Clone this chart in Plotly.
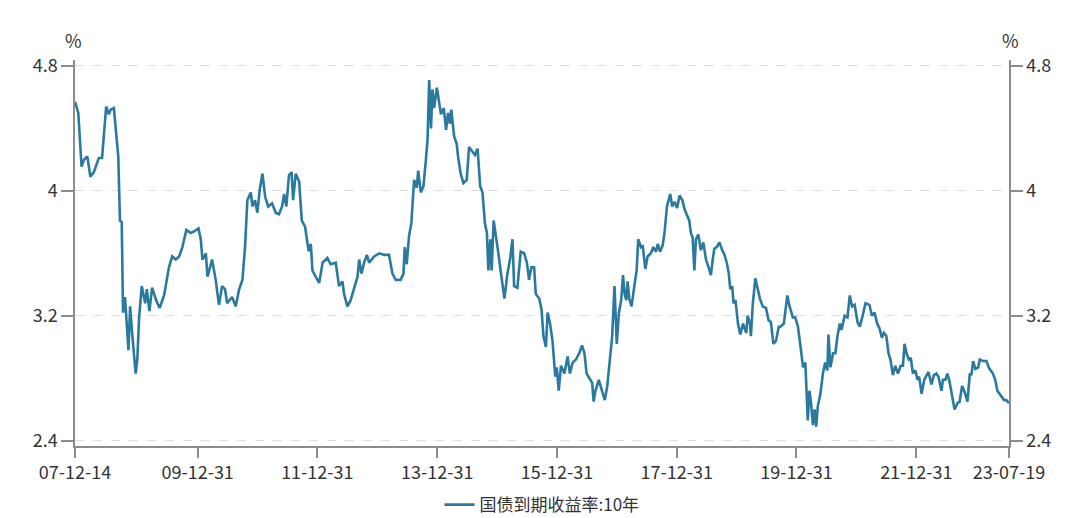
import plotly.graph_objects as go

dates = [
"2007-12-14","2007-12-25","2008-01-03","2008-01-23","2008-02-07","2008-02-27","2008-03-17","2008-04-07","2008-05-07","2008-05-27",
"2008-06-07","2008-06-21","2008-07-07","2008-07-18","2008-08-07","2008-08-18","2008-09-03","2008-09-13","2008-09-24","2008-10-02",
"2008-10-14","2008-11-04","2008-11-14","2008-11-28","2008-12-18","2008-12-28","2009-01-08","2009-01-24","2009-02-14","2009-02-24",
"2009-03-12","2009-03-28","2009-04-22","2009-05-13","2009-06-09","2009-07-09","2009-07-29","2009-08-19","2009-09-09","2009-09-29",
"2009-10-23","2009-11-19","2009-12-09","2010-01-05","2010-01-19","2010-01-29","2010-02-19","2010-03-01","2010-03-14","2010-03-29",
"2010-04-20","2010-05-10","2010-05-29","2010-06-16","2010-06-29","2010-07-29","2010-08-20","2010-09-10","2010-09-30","2010-10-16",
"2010-10-30","2010-11-20","2010-11-30","2010-12-16","2010-12-30","2011-01-14","2011-01-30","2011-02-16","2011-03-06","2011-03-30",
"2011-04-21","2011-05-11","2011-05-30","2011-06-11","2011-06-25","2011-07-11","2011-07-27","2011-08-05","2011-08-21","2011-09-11",
"2011-09-27","2011-10-17","2011-11-07","2011-11-11","2011-11-21","2011-12-01","2011-12-21","2012-01-11","2012-02-01","2012-03-01",
"2012-03-21","2012-04-21","2012-05-11","2012-06-01","2012-06-11","2012-07-01","2012-07-21","2012-08-11","2012-09-01","2012-09-11",
"2012-09-25","2012-10-11","2012-10-28","2012-11-11","2012-12-11","2013-01-12","2013-02-12","2013-03-12","2013-04-02","2013-04-22",
"2013-05-22","2013-06-08","2013-06-16","2013-06-28","2013-07-12","2013-07-26","2013-08-12","2013-08-28","2013-09-06","2013-09-22",
"2013-10-08","2013-10-23","2013-11-02","2013-11-12","2013-11-23","2013-12-02","2013-12-12","2013-12-29","2014-01-13","2014-01-23",
"2014-02-09","2014-02-23","2014-03-07","2014-03-19","2014-03-27","2014-04-13","2014-04-29","2014-05-07","2014-05-23","2014-06-09",
"2014-06-29","2014-07-13","2014-08-03","2014-08-18","2014-09-03","2014-09-19","2014-10-03","2014-10-18","2014-10-30","2014-11-08",
"2014-11-20","2014-11-28","2014-12-10","2014-12-24","2015-01-08","2015-01-24","2015-02-14","2015-03-04","2015-03-20","2015-04-04",
"2015-04-14","2015-05-04","2015-05-24","2015-06-14","2015-07-01","2015-07-14","2015-07-28","2015-08-14","2015-08-24","2015-09-14",
"2015-09-28","2015-10-10","2015-10-25","2015-11-04","2015-11-19","2015-12-04","2015-12-21","2015-12-30","2016-01-11","2016-01-25",
"2016-02-15","2016-03-05","2016-03-19","2016-04-05","2016-04-25","2016-05-15","2016-06-01","2016-06-16","2016-06-29","2016-07-16",
"2016-08-02","2016-08-11","2016-08-22","2016-09-11","2016-10-02","2016-10-18","2016-11-02","2016-11-16","2016-12-02","2016-12-16",
"2016-12-30","2017-01-12","2017-01-26","2017-02-06","2017-02-16","2017-02-26","2017-03-06","2017-03-16","2017-03-30","2017-04-16",
"2017-04-30","2017-05-10","2017-05-26","2017-06-06","2017-06-22","2017-07-06","2017-07-26","2017-08-10","2017-08-26","2017-09-06",
"2017-09-20","2017-10-06","2017-10-18","2017-11-01","2017-11-12","2017-11-21","2017-12-03","2017-12-17","2018-01-02","2018-01-17",
"2018-02-03","2018-02-17","2018-03-01","2018-03-17","2018-03-27","2018-04-07","2018-04-17","2018-04-27","2018-05-11","2018-05-27",
"2018-06-11","2018-06-27","2018-07-13","2018-07-27","2018-08-07","2018-08-17","2018-09-01","2018-09-17","2018-10-04","2018-10-18",
"2018-11-01","2018-11-13","2018-11-22","2018-12-04","2018-12-12","2018-12-24","2019-01-08","2019-01-22","2019-02-08","2019-02-28",
"2019-03-08","2019-03-22","2019-03-28","2019-04-08","2019-04-24","2019-05-08","2019-05-22","2019-06-08","2019-06-28","2019-07-14",
"2019-07-28","2019-08-12","2019-08-28","2019-09-14","2019-09-24","2019-10-15","2019-11-05","2019-11-19","2019-12-09","2019-12-23",
"2020-01-09","2020-01-25","2020-02-09","2020-02-23","2020-03-03","2020-03-09","2020-03-19","2020-03-29","2020-04-09","2020-04-19",
"2020-04-29","2020-05-09","2020-05-25","2020-06-09","2020-06-23","2020-07-06","2020-07-13","2020-07-25","2020-08-10","2020-08-24",
"2020-09-06","2020-09-20","2020-09-30","2020-10-20","2020-11-06","2020-11-20","2020-12-04","2020-12-20","2021-01-06","2021-01-20",
"2021-02-04","2021-02-24","2021-03-20","2021-04-04","2021-04-20","2021-05-06","2021-05-20","2021-06-04","2021-06-16","2021-07-01",
"2021-07-14","2021-07-26","2021-08-10","2021-08-24","2021-09-10","2021-09-26","2021-10-10","2021-10-20","2021-11-01","2021-11-15",
"2021-11-27","2021-12-10","2021-12-25","2022-01-07","2022-01-17","2022-02-01","2022-02-17","2022-03-02","2022-03-15","2022-04-02",
"2022-04-17","2022-05-02","2022-05-15","2022-06-02","2022-06-11","2022-06-26","2022-07-08","2022-07-21","2022-08-05","2022-08-21",
"2022-09-08","2022-09-21","2022-10-06","2022-10-22","2022-11-08","2022-11-22","2022-12-02","2022-12-12","2022-12-26","2023-01-12",
"2023-01-22","2023-02-12","2023-03-03","2023-03-22","2023-04-12","2023-04-26","2023-05-09","2023-05-29","2023-06-19","2023-07-03",
"2023-07-19",
]

yields = [
4.57,4.52,4.50,4.155,4.20,4.22,4.09,4.12,4.21,4.21,
4.38,4.54,4.49,4.52,4.53,4.41,4.22,3.81,3.80,3.22,
3.32,2.98,3.26,3.07,2.83,2.92,3.19,3.39,3.28,3.37,
3.23,3.38,3.30,3.25,3.33,3.51,3.58,3.56,3.58,3.64,
3.75,3.73,3.74,3.76,3.69,3.56,3.60,3.45,3.51,3.56,
3.43,3.27,3.39,3.37,3.28,3.32,3.26,3.37,3.43,3.64,
3.94,3.99,3.90,3.94,3.86,4.01,4.11,3.96,3.90,3.92,
3.86,3.85,3.90,3.98,3.90,4.10,4.12,3.94,4.11,4.06,
3.81,3.77,3.62,3.62,3.66,3.49,3.45,3.41,3.54,3.57,
3.53,3.54,3.39,3.42,3.34,3.26,3.30,3.37,3.45,3.56,
3.47,3.54,3.59,3.54,3.58,3.60,3.59,3.59,3.47,3.43,
3.43,3.47,3.64,3.53,3.71,3.79,4.07,4.02,4.13,3.99,
4.03,4.20,4.33,4.71,4.40,4.65,4.53,4.66,4.57,4.49,
4.53,4.39,4.50,4.43,4.52,4.35,4.30,4.22,4.11,4.05,
4.07,4.28,4.25,4.23,4.27,4.03,3.99,3.79,3.73,3.49,
3.69,3.49,3.81,3.69,3.60,3.47,3.31,3.47,3.56,3.69,
3.39,3.38,3.61,3.60,3.54,3.43,3.51,3.51,3.34,3.31,
3.24,3.07,3.00,3.22,3.15,3.04,2.81,2.87,2.72,2.88,
2.83,2.94,2.83,2.90,2.92,2.96,3.01,2.96,2.83,2.80,
2.77,2.65,2.72,2.79,2.72,2.66,2.75,2.90,3.07,3.39,
3.02,3.22,3.30,3.46,3.34,3.30,3.42,3.31,3.26,3.39,
3.49,3.69,3.64,3.65,3.50,3.58,3.60,3.64,3.61,3.66,
3.61,3.65,3.74,3.90,3.94,3.98,3.90,3.93,3.89,3.97,
3.94,3.88,3.85,3.81,3.73,3.70,3.49,3.69,3.72,3.62,
3.67,3.56,3.51,3.46,3.56,3.63,3.64,3.67,3.62,3.59,
3.54,3.47,3.37,3.39,3.28,3.30,3.15,3.08,3.15,3.09,
3.20,3.15,3.07,3.27,3.44,3.37,3.31,3.26,3.25,3.17,
3.16,3.02,3.04,3.13,3.13,3.15,3.33,3.26,3.19,3.19,
3.13,3.00,2.87,2.90,2.72,2.53,2.72,2.64,2.50,2.60,
2.49,2.62,2.70,2.83,2.90,2.85,3.08,2.87,2.96,2.96,
3.07,3.15,3.11,3.20,3.19,3.33,3.26,3.27,3.16,3.13,
3.19,3.28,3.27,3.20,3.22,3.15,3.12,3.06,3.09,3.07,
2.96,2.92,2.82,2.88,2.83,2.88,2.88,3.02,2.96,2.92,
2.93,2.83,2.85,2.79,2.81,2.70,2.79,2.82,2.84,2.76,
2.82,2.83,2.81,2.72,2.79,2.79,2.83,2.78,2.70,2.60,
2.64,2.65,2.75,2.71,2.65,2.83,2.82,2.91,2.86,2.87,
2.92,2.91,2.91,2.86,2.83,2.79,2.72,2.69,2.66,2.66,
2.64,
]

series_name = "国债到期收益率:10年"
x_tickvals = ["2007-12-14","2009-12-31","2011-12-31","2013-12-31","2015-12-31",
              "2017-12-31","2019-12-31","2021-12-31","2023-07-19"]
x_ticktext = ["07-12-14","09-12-31","11-12-31","13-12-31","15-12-31",
              "17-12-31","19-12-31","21-12-31","23-07-19"]
y_tickvals = [2.4, 3.2, 4.0, 4.8]
y_ticktext = ["2.4", "3.2", "4", "4.8"]

FONT = "Noto Sans CJK SC, Microsoft YaHei, sans-serif"
TXT = "#333333"
AX = "#8c8c8c"
LINE = "#2a7aa0"

fig = go.Figure()
fig.add_trace(go.Scatter(x=dates, y=yields, mode="lines", name=series_name,
                         line=dict(color=LINE, width=2.6)))
fig.add_trace(go.Scatter(x=dates, y=yields, mode="lines", yaxis="y2",
                         line=dict(color="rgba(0,0,0,0)", width=0),
                         showlegend=False, hoverinfo="skip"))

yr = [2.366, 4.838]
# page body adds an 8px offset, so the figure is 8px smaller and margins shifted
fig.update_layout(
    width=1072, height=510,
    margin=dict(l=67, r=71, t=52, b=72, autoexpand=False),
    paper_bgcolor="white", plot_bgcolor="white",
    font=dict(family=FONT, size=17, color=TXT),
    showlegend=True,
    legend=dict(orientation="h", x=0.5, xanchor="center", y=-0.153, yanchor="middle",
                font=dict(family=FONT, size=17, color=TXT), itemwidth=30),
    xaxis=dict(type="date", range=["2007-12-14", "2023-07-19"],
               tickvals=x_tickvals, ticktext=x_ticktext, automargin=False,
               showgrid=False, zeroline=False,
               showline=True, linecolor=AX, linewidth=1.5,
               ticks="outside", ticklen=10, tickcolor=AX, tickwidth=1.5,
               tickfont=dict(family=FONT, size=18, color=TXT)),
    yaxis=dict(range=yr, tickvals=y_tickvals, ticktext=y_ticktext, automargin=False,
               showgrid=True, gridcolor="#dcdcdc", griddash="dash", gridwidth=1,
               zeroline=False, showline=True, linecolor=AX, linewidth=1.5,
               ticks="outside", ticklen=12, tickcolor=AX, tickwidth=1.5,
               tickfont=dict(family=FONT, size=18, color=TXT)),
    yaxis2=dict(range=yr, tickvals=y_tickvals, ticktext=y_ticktext, automargin=False,
                overlaying="y", side="right", showgrid=False, zeroline=False,
                showline=True, linecolor=AX, linewidth=1.5,
                ticks="outside", ticklen=12, tickcolor=AX, tickwidth=1.5,
                tickfont=dict(family=FONT, size=18, color=TXT)),
    annotations=[
        dict(text="%", xref="paper", yref="paper", x=0, y=1, xanchor="center",
             yanchor="middle", xshift=-2, yshift=20,
             showarrow=False, font=dict(family=FONT, size=18, color=TXT)),
        dict(text="%", xref="paper", yref="paper", x=1, y=1, xanchor="center",
             yanchor="middle", xshift=1, yshift=20,
             showarrow=False, font=dict(family=FONT, size=18, color=TXT)),
    ],
)

fig.write_html("out.html")
